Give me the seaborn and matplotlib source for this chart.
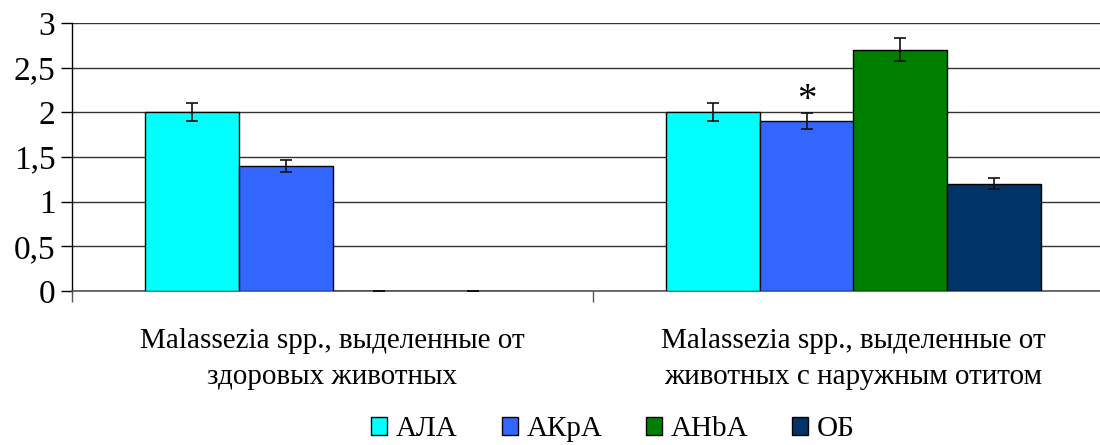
import numpy as np
import pandas as pd
import matplotlib
matplotlib.use("Agg")
import matplotlib.pyplot as plt
import seaborn as sns
from matplotlib.patches import Patch
from matplotlib.ticker import FixedLocator

# Data
groups = ["Malassezia spp., выделенные от\nздоровых животных",
          "Malassezia spp., выделенные от\nживотных с наружным отитом"]
series = ["АЛА", "АКрА", "АНbА", "ОБ"]
values_healthy = [2.0, 1.4, 0.0, 0.0]
values_otitis = [2.0, 1.9, 2.7, 1.2]
errors_healthy = [0.10, 0.07, 0.0, 0.0]
errors_otitis = [0.10, 0.09, 0.13, 0.06]
colors = ["#00FFFF", "#3366FF", "#008000", "#003366"]
y_ticks = [0, 0.5, 1, 1.5, 2, 2.5, 3]
y_tick_labels = ["0", "0,5", "1", "1,5", "2", "2,5", "3"]
marked_series = "АКрА"   # significant difference (*) in the otitis group

df = pd.DataFrame({
    "group": [groups[0]] * 4 + [groups[1]] * 4,
    "series": series * 2,
    "value": values_healthy + values_otitis,
    "err": errors_healthy + errors_otitis,
})

sns.set_style("white")
plt.rcParams["font.family"] = ["Liberation Serif", "DejaVu Serif"]
plt.rcParams["text.color"] = "black"
plt.rcParams["xtick.color"] = "black"
plt.rcParams["ytick.color"] = "black"

W, H = 1100, 445
fig = plt.figure(figsize=(W / 100, H / 100), dpi=100)
left, right, top, bottom = 72, 1114, 23, 291
ax = fig.add_axes([left / W, 1 - bottom / H, (right - left) / W, (bottom - top) / H])

sns.barplot(data=df, x="group", y="value", hue="series", order=groups,
            hue_order=series, palette=colors, saturation=1, width=0.72, gap=0,
            errorbar=None, edgecolor="black", linewidth=1.0,
            legend=False, ax=ax, zorder=3)

# error bars at bar centres
for i, s in enumerate(series):
    cont = ax.containers[i]
    for bar, g in zip(cont, groups):
        row = df[(df.series == s) & (df.group == g)].iloc[0]
        xc = bar.get_x() + bar.get_width() / 2
        ax.errorbar(xc, row.value, yerr=row.err, fmt="none", ecolor="#111111",
                    elinewidth=1.2, capsize=4, capthick=1.2, zorder=4)
        if s == marked_series and g == groups[1]:
            ax.text(xc, row.value + row.err - 0.06, "*", ha="center", va="bottom",
                    fontsize=28, color="black")

ax.set_xlim(-0.5, 1.5)
ax.set_ylim(0, 3)
ax.set_yticks(y_ticks)
ax.set_yticklabels(y_tick_labels, fontsize=24)
ax.yaxis.grid(True, color="#333333", linewidth=1.0)
ax.set_axisbelow(True)
ax.tick_params(axis="y", which="major", direction="out", length=8, width=1,
               color="black", pad=4, left=True)

# category labels without major tick marks; boundary ticks as minor ticks
ax.set_xticks([0, 1])
ax.set_xticklabels(groups, fontsize=21, linespacing=1.5)
ax.tick_params(axis="x", which="major", length=0, pad=27)
ax.xaxis.set_minor_locator(FixedLocator([-0.5, 0.5, 1.5]))
ax.tick_params(axis="x", which="minor", direction="out", length=8, width=1,
               color="#555555", bottom=True)
ax.set_xlabel("")
ax.set_ylabel("")

for sp in ["top", "right"]:
    ax.spines[sp].set_visible(False)
ax.spines["left"].set_color("black")
ax.spines["left"].set_linewidth(1.0)
ax.spines["bottom"].set_color("#555555")
ax.spines["bottom"].set_linewidth(1.2)

handles = [Patch(facecolor=c, edgecolor="black", linewidth=1.0) for c in colors]
fig.legend(handles, series, loc="lower center", bbox_to_anchor=(613 / W, 0.0),
           ncol=4, frameon=False, fontsize=21, handlelength=0.55, handleheight=0.55,
           handletextpad=0.3, columnspacing=1.5, borderaxespad=0, borderpad=0.1)

fig.savefig("out.png", dpi=100)
